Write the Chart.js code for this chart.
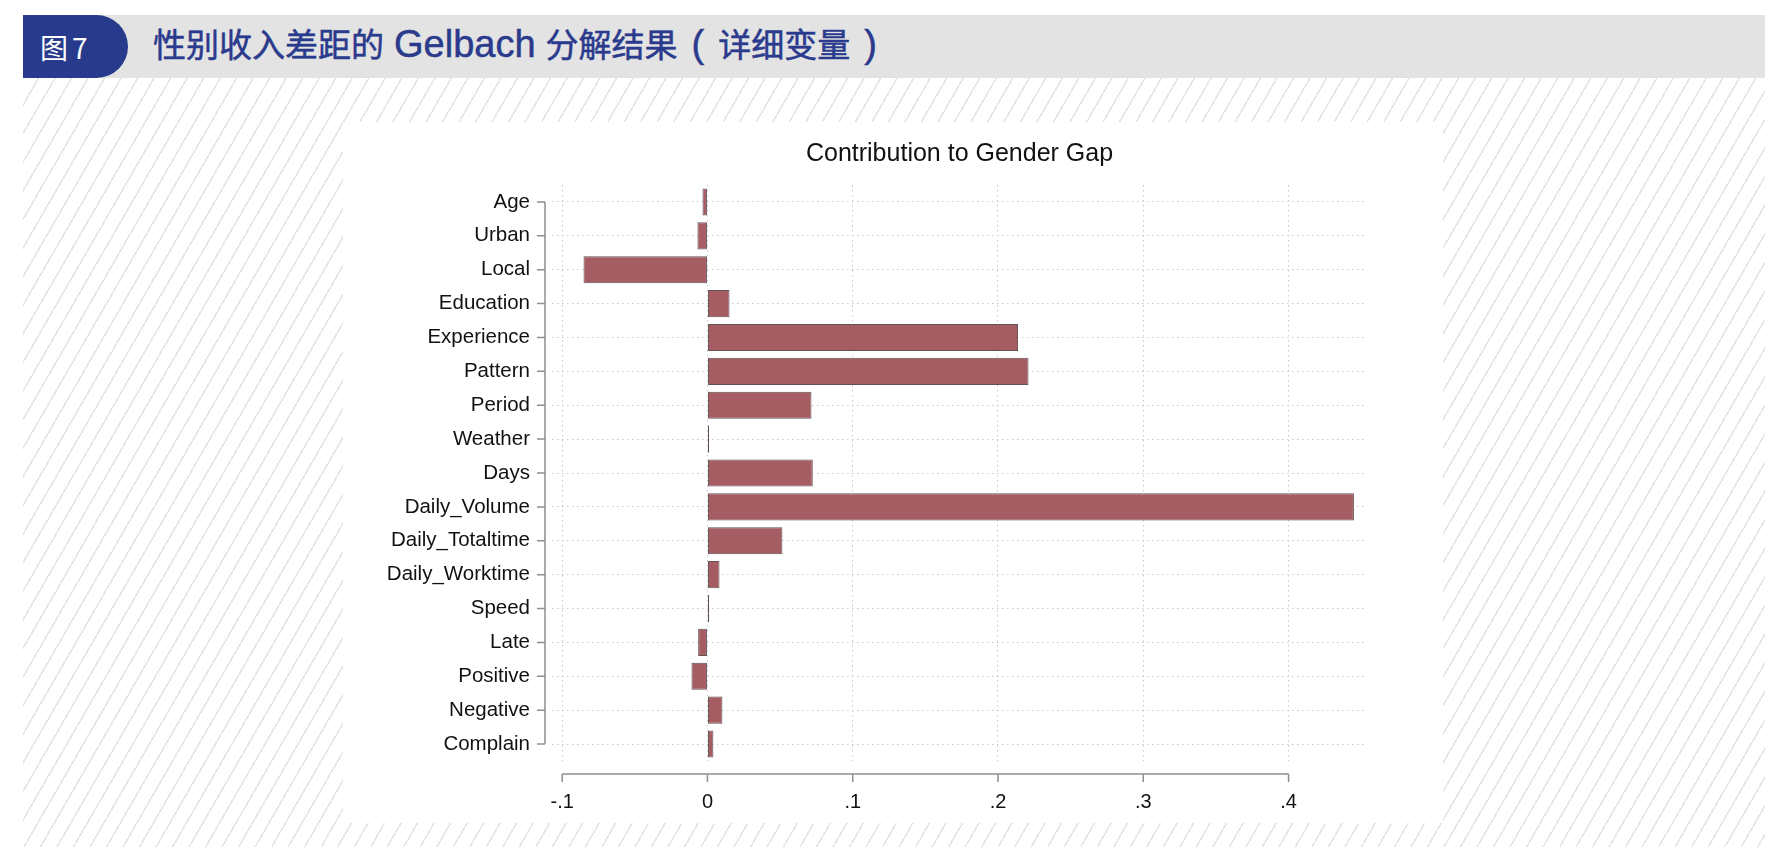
<!DOCTYPE html>
<html>
<head>
<meta charset="utf-8">
<script src="https://cdn.jsdelivr.net/npm/chart.js@4.4.1/dist/chart.umd.min.js"></script>
<style>
  html, body { margin: 0; padding: 0; background: #fff; }
  #page { position: relative; width: 1785px; height: 847px; overflow: hidden; background: #fff; }
  #hatch {
    position: absolute; left: 23px; top: 78px; width: 1742px; height: 769px;
    background: repeating-linear-gradient(120deg, #fff 0px, #fff 12.7px, #e5e5e5 12.7px, #e5e5e5 14.3px);
  }
  #header { position: absolute; left: 23px; top: 15px; width: 1742px; height: 63px; background: #e3e3e3; }
  #tab {
    position: absolute; left: 23px; top: 15px; width: 105px; height: 63px; background: #283a8b;
    border-radius: 0 32px 32px 0; color: #fff; font: 400 28px 'Noto Sans CJK SC', sans-serif;
    line-height: 64px; padding-left: 17px; box-sizing: border-box; letter-spacing: 4px;
  }
  #title {
    position: absolute; left: 153px; top: 19px; height: 63px; line-height: 65px;
    color: #2a3a8c; font: 400 33px 'Noto Sans CJK SC', sans-serif; white-space: nowrap;
    -webkit-text-stroke: 0.5px #2a3a8c;
  }
  #title .latin { font-family: 'Liberation Sans', Arial, sans-serif; font-size: 38px; margin: 0 10px; }
  #title .paren { font-family: 'Liberation Sans', Arial, sans-serif; font-size: 38px; margin: 0 14px; }
  #panel { position: absolute; left: 343px; top: 122px; width: 1100px; height: 701px; background: #fff; }
  #chart { position: absolute; left: 343px; top: 122px; }
</style>
</head>
<body>
<div id="page">
  <div id="hatch"></div>
  <div id="header"></div>
  <div id="tab">图7</div>
  <div id="title">性别收入差距的<span class="latin">Gelbach</span>分解结果<span class="paren">(</span>详细变量<span class="paren">)</span></div>
  <div id="panel"></div>
  <canvas id="chart" width="1100" height="701"></canvas>
</div>
<script>
// variables (top to bottom) and their contribution to the gender gap
const categories = ['Age', 'Urban', 'Local', 'Education', 'Experience', 'Pattern', 'Period', 'Weather', 'Days',
  'Daily_Volume', 'Daily_Totaltime', 'Daily_Worktime', 'Speed', 'Late', 'Positive', 'Negative', 'Complain'];
const contributions = [-0.0034, -0.0069, -0.0853, 0.0152, 0.2138, 0.221, 0.0716, 0.0012, 0.0725,
  0.445, 0.0516, 0.0083, 0.0012, -0.0064, -0.011, 0.0103, 0.0041];
const xTicks = [-0.1, 0, 0.1, 0.2, 0.3, 0.4];
const xTickLabels = ['-.1', '0', '.1', '.2', '.3', '.4'];
const chartTitle = 'Contribution to Gender Gap';

const axisColor = '#8e8e8e';
const gridColor = '#c9c9c9';
const fontFamily = "'Liberation Sans', Arial, sans-serif";

// Stata-style axes: lines only span the ticks, plus title centred on the plot
const stataAxes = {
  id: 'stataAxes',
  afterDraw(chart) {
    const { ctx, chartArea, scales } = chart;
    const x = scales.x, y = scales.y;
    ctx.save();
    ctx.strokeStyle = axisColor;
    ctx.lineWidth = 1.5;

    // y axis
    const ax = chartArea.left - 7;
    ctx.beginPath();
    ctx.moveTo(ax, y.getPixelForValue(0));
    ctx.lineTo(ax, y.getPixelForValue(categories.length - 1));
    categories.forEach((c, i) => {
      const py = y.getPixelForValue(i);
      ctx.moveTo(ax - 8, py);
      ctx.lineTo(ax, py);
    });
    ctx.stroke();

    // x axis
    const ay = chartArea.bottom + 13;
    ctx.beginPath();
    ctx.moveTo(x.getPixelForValue(xTicks[0]), ay);
    ctx.lineTo(x.getPixelForValue(xTicks[xTicks.length - 1]), ay);
    xTicks.forEach(v => {
      const px = x.getPixelForValue(v);
      ctx.moveTo(px, ay);
      ctx.lineTo(px, ay + 8);
    });
    ctx.stroke();

    // title
    ctx.fillStyle = '#111';
    ctx.font = '25px ' + fontFamily;
    ctx.textAlign = 'center';
    ctx.textBaseline = 'middle';
    ctx.fillText(chartTitle, (chartArea.left + chartArea.right) / 2, 32);
    ctx.restore();
  }
};

new Chart(document.getElementById('chart'), {
  type: 'bar',
  data: {
    labels: categories,
    datasets: [{
      data: contributions,
      backgroundColor: '#a55c62',
      borderColor: '#625253',
      borderWidth: 1,
      borderSkipped: false,
      barPercentage: 0.8,
      categoryPercentage: 1.0
    }]
  },
  options: {
    indexAxis: 'y',
    responsive: false,
    devicePixelRatio: 1,
    animation: false,
    layout: { padding: { top: 63, right: 76, bottom: 0, left: 0 } },
    plugins: { legend: { display: false }, title: { display: false }, tooltip: { enabled: false } },
    scales: {
      x: {
        type: 'linear',
        min: -0.107,
        max: 0.454,
        afterFit: s => { s.height = 62; },
        afterBuildTicks: s => { s.ticks = xTicks.map(v => ({ value: v })); },
        grid: { color: gridColor, lineWidth: 1, drawTicks: false },
        border: { display: false, dash: [1.5, 3.5] },
        ticks: {
          padding: 29,
          color: '#111',
          font: { family: fontFamily, size: 20 },
          callback: v => xTickLabels[xTicks.indexOf(v)]
        }
      },
      y: {
        afterFit: s => { s.width = 209; },
        grid: { color: gridColor, lineWidth: 1, drawTicks: false, offset: false },
        border: { display: false, dash: [1.5, 3.5] },
        ticks: {
          padding: 22,
          color: '#111',
          font: { family: fontFamily, size: 20.5 },
          autoSkip: false
        }
      }
    }
  },
  plugins: [stataAxes]
});
</script>
</body>
</html>
